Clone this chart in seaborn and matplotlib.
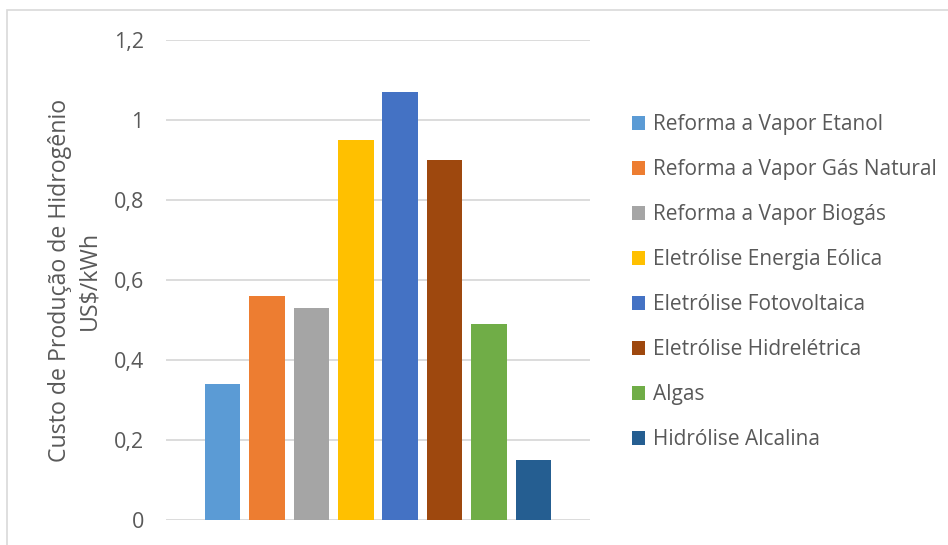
import matplotlib
matplotlib.use("Agg")
import matplotlib.pyplot as plt
from matplotlib.patches import Rectangle
import seaborn as sns
import pandas as pd

# Hydrogen production cost by process (US$/kWh)
processos = [
    "Reforma a Vapor Etanol",
    "Reforma a Vapor Gás Natural",
    "Reforma a Vapor Biogás",
    "Eletrólise Energia Eólica",
    "Eletrólise Fotovoltaica",
    "Eletrólise Hidrelétrica",
    "Algas",
    "Hidrólise Alcalina",
]
custos = [0.34, 0.56, 0.53, 0.95, 1.07, 0.90, 0.49, 0.15]
cores = ["#5B9BD5", "#ED7D31", "#A5A5A5", "#FFC000",
         "#4472C4", "#9E480E", "#70AD47", "#255E91"]
y_ticks = [0, 0.2, 0.4, 0.6, 0.8, 1.0, 1.2]
y_tick_labels = ["0", "0,2", "0,4", "0,6", "0,8", "1", "1,2"]

df = pd.DataFrame({"processo": processos, "custo": custos})

sns.set_style("white")
plt.rcParams["font.family"] = ["Open Sans", "DejaVu Sans"]
texto = "#595959"

fig = plt.figure(figsize=(9.48, 5.45), dpi=100)
ax = fig.add_axes([166 / 948, 1 - 520 / 545, (590 - 166) / 948, (520 - 40) / 545])

sns.barplot(data=df, x="processo", y="custo", hue="processo",
            palette=cores, width=0.8, legend=True, ax=ax, saturation=1,
            linewidth=0)

ax.set_ylim(0, 1.2)
ax.set_xlim(-1.27, 8.27)
ax.set_yticks(y_ticks)
ax.set_yticklabels(y_tick_labels)
ax.tick_params(axis="y", length=0, pad=16, labelsize=15.5, labelcolor=texto)
ax.set_xticks([])
ax.set_xlabel("")
ax.yaxis.grid(True, color="#D9D9D9", linewidth=1.3)
ax.set_axisbelow(True)
for s in ax.spines.values():
    s.set_visible(False)

ax.set_ylabel("Custo de Produção de Hidrogênio\nUS$/kWh", fontsize=16.7,
              color=texto, linespacing=1.25)
ax.yaxis.set_label_coords((101 - 166) / 424, 0.5)

leg = ax.legend(loc="upper left", bbox_to_anchor=(624 / 948, 1 - 106 / 545),
                bbox_transform=fig.transFigure, frameon=False,
                fontsize=15, labelcolor=texto, handlelength=0.63,
                handleheight=0.63, handletextpad=0.34, labelspacing=1.15,
                borderaxespad=0)

# outer chart border
fig.patches.append(Rectangle((7 / 948, -0.1), 1.2, 1 - 10 / 545 + 0.1,
                             transform=fig.transFigure, fill=False,
                             edgecolor="#D9D9D9", linewidth=1.2))

fig.savefig("out.png", dpi=100)
